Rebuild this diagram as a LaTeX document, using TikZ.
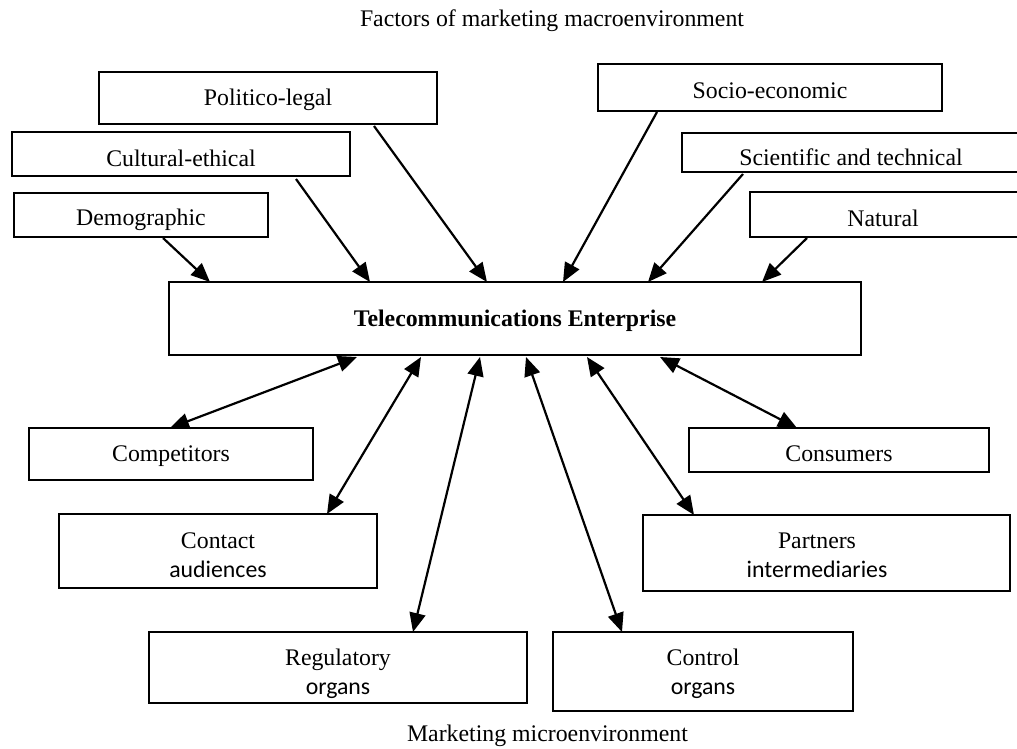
\documentclass[tikz,border=0pt]{standalone}
\usepackage{fontspec}
\setmainfont{Liberation Serif}
\newfontfamily\sansf{Carlito}
\usetikzlibrary{arrows.meta,calc}
\newcommand\fsz{\fontsize{11.9}{14.5}\selectfont}
\newcommand\tx[3]{\raisebox{-#2}[0pt][0pt]{\makebox[0pt]{\kern#1\begin{tabular}[t]{@{}c@{}}#3\end{tabular}}}}
\begin{document}
\begin{tikzpicture}[x=0.5pt,y=-0.5pt,
  box/.style={draw, line width=1pt, inner sep=0pt, outer sep=0pt, font=\fsz},
  arr/.style={line width=1.1pt, -{Triangle[length=9.5pt,width=8pt]}},
  darr/.style={line width=1.1pt, {Triangle[length=9.5pt,width=8pt]}-{Triangle[length=9.5pt,width=8pt]}},
  ttl/.style={inner sep=0pt, anchor=base, font=\fsz}]
\useasboundingbox (0,0) rectangle (1017,749);
\clip (0,0) rectangle (1017,749);
\fill[white] (0,0) rectangle (1017,749);

% titles
\node[ttl] (top) at (552,27) {Factors of marketing macroenvironment};
\node[ttl] (bot) at (547.5,741) {Marketing microenvironment};

% macroenvironment boxes
\node[box, minimum width=169pt, minimum height=26pt] (PL) at (268,98) {\tx{0pt}{3.5pt}{Politico-legal}};
\node[box, minimum width=172pt, minimum height=23.5pt] (SE) at (770,87.5) {\tx{0pt}{5.75pt}{Socio-economic}};
\node[box, minimum width=169pt, minimum height=22pt] (CE) at (181,154) {\tx{0pt}{6pt}{Cultural-ethical}};
\node[box, minimum width=169pt, minimum height=19.5pt] (ST) at (851,152.5) {\tx{0pt}{6.25pt}{Scientific and technical}};
\node[box, minimum width=127pt, minimum height=22pt] (DG) at (141,215) {\tx{0pt}{5pt}{Demographic}};
\node[box, minimum width=135pt, minimum height=22.5pt] (NA) at (885,214.5) {\tx{-2pt}{5.75pt}{Natural}};

% enterprise
\node[box, minimum width=346pt, minimum height=36.5pt] (TE) at (515,318.5) {\tx{0pt}{4pt}{\textbf{Telecommunications Enterprise}}};

% microenvironment boxes
\node[box, minimum width=142pt, minimum height=26pt] (CO) at (171,454) {\tx{0pt}{3.5pt}{Competitors}};
\node[box, minimum width=150pt, minimum height=22pt] (CS) at (839,450) {\tx{0pt}{5.5pt}{Consumers}};
\node[box, minimum width=159pt, minimum height=37pt] (CA) at (218,551) {\tx{0pt}{-1.5pt}{Contact\\{\sansf audiences}}};
\node[box, minimum width=183.5pt, minimum height=38pt] (PI) at (826.5,553) {\tx{-9.5pt}{-2.5pt}{Partners\\{\sansf intermediaries}}};
\node[box, minimum width=189pt, minimum height=35.5pt] (RO) at (338,667.5) {\tx{0pt}{-1.25pt}{Regulatory\\{\sansf organs}}};
\node[box, minimum width=150pt, minimum height=39.5pt] (CN) at (703,671.5) {\tx{0pt}{-3.25pt}{Control\\{\sansf organs}}};

% macro arrows
\draw[arr] ($(DG.south west)+(149,1)$) -- ($(TE.north west)+(41,0)$);
\draw[arr] ($(CE.south west)+(284,3)$) -- ($(TE.north west)+(201,0)$);
\draw[arr] ($(PL.south west)+(275,2)$) -- ($(TE.north west)+(318,0)$);
\draw[arr] ($(SE.south west)+(59,1)$) -- ($(TE.north west)+(394,0)$);
\draw[arr] ($(ST.south west)+(61,2)$) -- ($(TE.north west)+(479,0)$);
\draw[arr] ($(NA.south west)+(57,1)$) -- ($(TE.north west)+(593,0)$);

% micro arrows
\draw[darr] ($(TE.south west)+(188,2)$) -- ($(CO.north west)+(141,0)$);
\draw[darr] ($(TE.south west)+(252,2)$) -- ($(CA.north west)+(268,0)$);
\draw[darr] ($(TE.south west)+(311,2)$) -- ($(RO.north west)+(264,0)$);
\draw[darr] ($(TE.south west)+(357,2)$) -- ($(CN.north west)+(69,0)$);
\draw[darr] ($(TE.south west)+(418,2)$) -- ($(PI.north west)+(51,0)$);
\draw[darr] ($(TE.south west)+(491,2)$) -- ($(CS.north west)+(108,0)$);
\end{tikzpicture}
\end{document}
